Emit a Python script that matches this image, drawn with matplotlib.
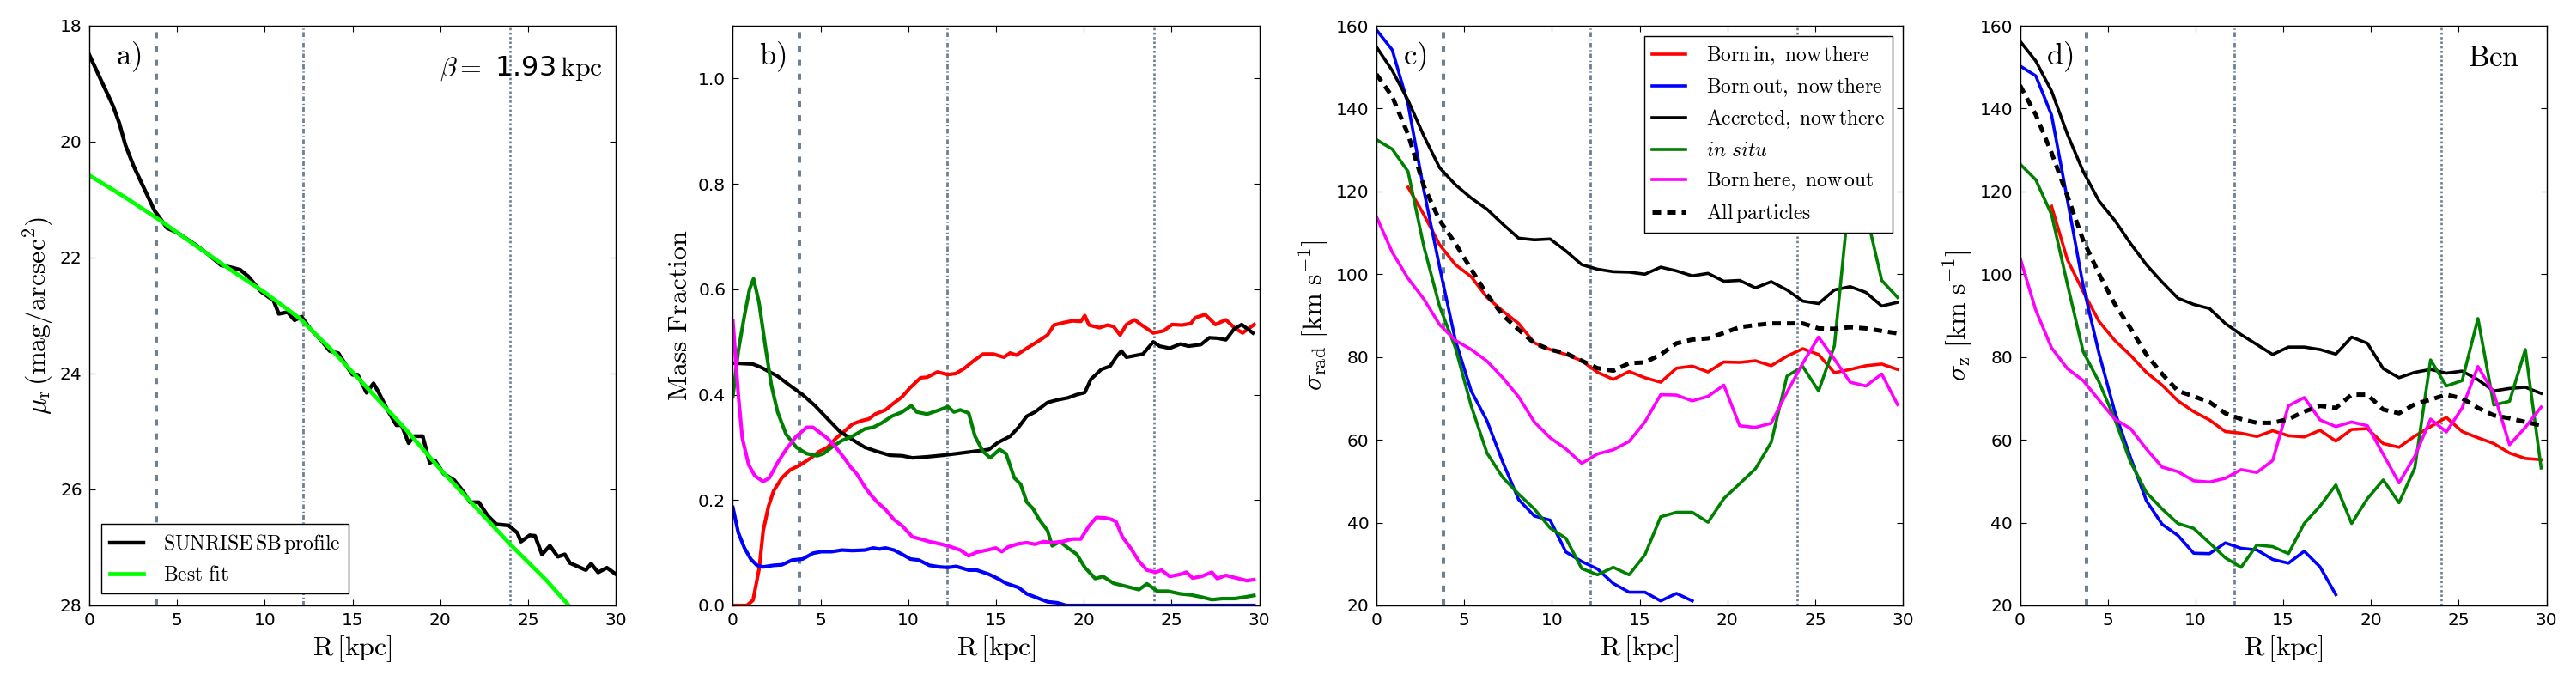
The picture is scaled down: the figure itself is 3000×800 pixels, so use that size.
import numpy as np
import matplotlib
matplotlib.use('Agg')
import matplotlib.pyplot as plt

nan = np.nan

plt.rcParams['mathtext.fontset'] = 'cm'
plt.rcParams['font.family'] = ['DejaVu Sans']
plt.rcParams['xtick.direction'] = 'in'
plt.rcParams['ytick.direction'] = 'in'
plt.rcParams['xtick.top'] = True
plt.rcParams['ytick.right'] = True
plt.rcParams['xtick.major.size'] = 5
plt.rcParams['ytick.major.size'] = 5
plt.rcParams['xtick.major.pad'] = 6
plt.rcParams['ytick.major.pad'] = 6
plt.rcParams['xtick.labelsize'] = 14.5
plt.rcParams['ytick.labelsize'] = 14.5
plt.rcParams['axes.linewidth'] = 1.0

# ---- panel a : surface brightness profile
a_r_sb = [0, 0.64, 1.35, 1.71, 2.06, 2.54, 3.13, 3.72, 4.08, 4.43, 5.03, 6.1, 6.8, 7.5, 8.1,
          8.6, 9.05, 9.8, 10.5, 10.8, 11.3, 11.7, 12.1, 12.6, 13.2, 13.7, 14.2, 14.6, 15.0, 15.3,
          15.8, 16.2, 16.5, 17.0, 17.5, 17.8, 18.2, 18.5, 19.0, 19.4, 19.7, 20.2, 20.8, 21.3, 21.7,
          22.2, 22.7, 23.2, 23.9, 24.4, 24.6, 25.1, 25.4, 25.8, 26.25, 26.7, 27.1, 27.4, 28.3, 28.6,
          29.0, 29.5, 30.0]
a_mu_sb = [18.5, 18.92, 19.38, 19.68, 20.06, 20.43, 20.81, 21.19, 21.34, 21.49, 21.57, 21.79, 21.95, 22.13, 22.17,
           22.21, 22.32, 22.59, 22.74, 22.97, 22.94, 23.08, 23.02, 23.23, 23.42, 23.61, 23.65, 23.84, 24.02, 24.02,
           24.33, 24.17, 24.33, 24.63, 24.89, 24.89, 25.2, 25.08, 25.08, 25.54, 25.5, 25.73, 25.84, 26.03, 26.22,
           26.22, 26.45, 26.6, 26.62, 26.75, 26.9, 26.79, 26.8, 27.12, 26.97, 27.16, 27.12, 27.27, 27.39, 27.28,
           27.43, 27.35, 27.46]
a_r_fit = [0, 2, 4, 6, 8, 10, 12, 14, 16, 18, 20, 22, 24, 26, 27.33]
a_mu_fit = [20.58, 20.95, 21.35, 21.78, 22.2, 22.6, 23.05, 23.65, 24.3, 24.95, 25.65, 26.3, 26.95, 27.55, 28.0]

# ---- panel b : mass fractions
b_r_born_in = [0, 0.8, 1.15, 1.5, 1.73, 2.03, 2.32, 2.79, 3.26, 3.86, 4.45, 4.92, 5.4, 5.87, 6.34,
               6.81, 7.29, 7.76, 8.11, 8.7, 9.18, 9.65, 10.1, 10.7, 11.07, 11.66, 12.25, 12.7, 13.2, 13.67,
               14.26, 14.85, 15.45, 15.8, 16.16, 16.75, 17.34, 17.93, 18.3, 18.9, 19.35, 19.83, 20.06, 20.3, 20.89,
               21.36, 21.7, 22.07, 22.43, 22.9, 23.26, 23.96, 24.55, 25.03, 25.6, 26.1, 26.35, 26.92, 27.5, 28.1,
               28.58, 29.05, 29.71]
b_born_in = [0, 0, 0.01, 0.07, 0.142, 0.188, 0.217, 0.242, 0.257, 0.267, 0.28, 0.292, 0.30, 0.317, 0.33,
             0.344, 0.35, 0.354, 0.363, 0.371, 0.384, 0.396, 0.413, 0.432, 0.433, 0.443, 0.438, 0.44, 0.45, 0.463,
             0.477, 0.477, 0.471, 0.479, 0.475, 0.488, 0.5, 0.513, 0.532, 0.537, 0.54, 0.539, 0.55, 0.532, 0.527,
             0.532, 0.529, 0.513, 0.533, 0.542, 0.533, 0.517, 0.521, 0.533, 0.532, 0.535, 0.546, 0.552, 0.533, 0.542,
             0.527, 0.517, 0.533]

b_r_born_out = [0, 0.31, 0.66, 1.02, 1.37, 1.73, 2.32, 2.79, 3.38, 3.97, 4.57, 5.04, 5.63, 6.22, 6.81,
                7.52, 8.0, 8.35, 8.7, 9.18, 9.65, 10.12, 10.6, 11.2, 11.78, 12.25, 12.73, 13.44, 13.9, 14.6,
                15.1, 15.57, 16.28, 16.75, 17.22, 17.93, 18.5, 19.0, 29.7]
b_born_out = [0.186, 0.138, 0.109, 0.088, 0.076, 0.073, 0.076, 0.077, 0.086, 0.088, 0.099, 0.102, 0.102, 0.105, 0.104,
              0.105, 0.109, 0.107, 0.109, 0.105, 0.097, 0.088, 0.086, 0.076, 0.073, 0.072, 0.074, 0.067, 0.067, 0.059,
              0.051, 0.042, 0.034, 0.022, 0.016, 0.007, 0.005, 0.0, 0.0]

b_r_accreted = [0, 1.14, 1.6, 2.55, 3.26, 3.97, 4.68, 5.4, 6.1, 6.7, 7.52, 8.23, 8.94, 9.65, 10.24,
                11.07, 12.0, 12.73, 13.67, 14.6, 15.1, 15.8, 16.28, 16.75, 17.22, 17.93, 18.5, 19.1, 19.6, 20.06,
                20.4, 21.0, 21.5, 21.84, 22.14, 22.43, 22.9, 23.37, 23.96, 24.32, 24.9, 25.5, 25.97, 26.68, 27.16,
                27.63, 28.1, 28.58, 29.0, 29.64]
b_accreted = [0.46, 0.458, 0.452, 0.435, 0.417, 0.4, 0.379, 0.354, 0.33, 0.317, 0.30, 0.292, 0.285, 0.284, 0.28,
              0.282, 0.285, 0.288, 0.292, 0.296, 0.309, 0.321, 0.338, 0.359, 0.367, 0.385, 0.39, 0.394, 0.40, 0.404,
              0.429, 0.448, 0.454, 0.471, 0.483, 0.471, 0.474, 0.477, 0.5, 0.492, 0.488, 0.496, 0.492, 0.495, 0.508,
              0.507, 0.504, 0.525, 0.533, 0.517]

b_r_insitu = [0, 0.31, 0.66, 0.95, 1.18, 1.49, 1.85, 2.2, 2.55, 3.03, 3.62, 4.21, 4.8, 5.16, 5.63,
              6.22, 6.81, 7.52, 8.0, 8.47, 9.06, 9.65, 10.17, 10.48, 11.07, 11.78, 12.25, 12.6, 12.96, 13.44,
              13.8, 14.26, 14.67, 15.2, 15.57, 16.04, 16.4, 16.75, 17.1, 17.46, 17.93, 18.2, 18.64, 19.1, 19.6,
              20.06, 20.65, 21.1, 21.7, 22.2, 22.67, 23.14, 23.6, 24.2, 24.8, 25.5, 26.1, 26.7, 27.3, 27.9,
              28.6, 29.2, 29.7]
b_insitu = [0.396, 0.483, 0.55, 0.6, 0.62, 0.575, 0.492, 0.417, 0.367, 0.325, 0.30, 0.288, 0.284, 0.288, 0.30,
            0.313, 0.321, 0.335, 0.338, 0.346, 0.359, 0.367, 0.379, 0.367, 0.363, 0.371, 0.377, 0.367, 0.371, 0.365,
            0.321, 0.292, 0.28, 0.296, 0.288, 0.242, 0.23, 0.196, 0.184, 0.163, 0.142, 0.113, 0.121, 0.109, 0.097,
            0.072, 0.051, 0.055, 0.042, 0.038, 0.034, 0.03, 0.041, 0.027, 0.027, 0.022, 0.02, 0.016, 0.011, 0.013,
            0.013, 0.016, 0.019]

b_r_born_here = [0, 0.31, 0.54, 0.9, 1.25, 1.73, 2.08, 2.55, 3.03, 3.62, 4.21, 4.57, 4.92, 5.4, 5.87,
                 6.34, 6.7, 7.05, 7.52, 7.88, 8.23, 8.7, 9.18, 9.65, 10.24, 10.7, 11.2, 11.78, 12.25, 12.96,
                 13.44, 13.9, 14.5, 14.98, 15.33, 15.69, 16.28, 16.75, 17.22, 17.7, 18.17, 18.76, 19.35, 19.83, 20.3,
                 20.72, 21.24, 21.6, 21.84, 22.2, 22.67, 23.14, 23.6, 24.1, 24.43, 24.9, 25.5, 25.85, 26.2, 26.7,
                 27.3, 27.6, 28.1, 28.7, 29.3, 29.7]
b_born_here = [0.54, 0.4, 0.317, 0.267, 0.246, 0.235, 0.242, 0.271, 0.296, 0.321, 0.338, 0.338, 0.329, 0.317, 0.30,
               0.28, 0.263, 0.25, 0.225, 0.209, 0.196, 0.182, 0.163, 0.151, 0.13, 0.126, 0.121, 0.117, 0.113, 0.105,
               0.094, 0.101, 0.105, 0.109, 0.102, 0.111, 0.117, 0.119, 0.116, 0.121, 0.119, 0.121, 0.126, 0.126, 0.151,
               0.167, 0.166, 0.163, 0.159, 0.13, 0.109, 0.084, 0.067, 0.063, 0.067, 0.055, 0.059, 0.063, 0.052, 0.055,
               0.063, 0.051, 0.057, 0.052, 0.047, 0.049]

# ---- panels c, d : velocity dispersions (shared radial bins)
r_sig = [0.0, 0.9, 1.8, 2.7, 3.6, 4.5, 5.4, 6.3, 7.2, 8.1, 9.0, 9.9, 10.8, 11.7, 12.6, 13.5, 14.4,
         15.3, 16.2, 17.1, 18.0, 18.9, 19.8, 20.7, 21.6, 22.5, 23.4, 24.3, 25.2, 26.1, 27.0, 27.9, 28.8, 29.7]

c_born_in = [nan, nan, 121.0, 114.4, 107.1, 102.3, 99.4, 94.4, 91.1, 88.1, 83.4, 81.8, 80.6, 79.1, 76.3, 74.6, 76.5,
             75.0, 73.9, 77.3, 77.8, 76.4, 78.8, 78.7, 79.1, 77.9, 80.2, 82.0, 80.6, 76.2, 77.0, 77.9, 78.3, 77.0]
c_born_out = [159.0, 154.2, 141.1, 120.3, 101.7, 84.0, 71.8, 64.6, 54.6, 45.6, 41.6, 40.6, 32.9, 30.6, 28.8, 25.3, 23.2,
              23.2, 21.1, 22.9, 21.1, nan, nan, nan, nan, nan, nan, nan, nan, nan, nan, nan, nan, nan]
c_accreted = [154.9, 149.2, 142.0, 133.4, 125.7, 121.6, 118.4, 115.7, 112.1, 108.7, 108.3, 108.5, 105.6, 102.3, 101.2,
              100.6, 100.5, 100.0, 101.7, 100.8, 99.6, 100.2, 98.3, 98.5, 96.7, 98.2, 96.2, 93.5, 92.9, 96.2, 97.0,
              95.6, 92.3, 93.2]
c_insitu = [132.5, 130.2, 124.8, 106.7, 92.2, 82.2, 68.2, 56.8, 50.9, 46.9, 43.3, 38.7, 36.2, 28.9, 27.4, 29.2, 27.4,
            32.2, 41.4, 42.5, 42.5, 40.1, 45.8, 49.4, 53.0, 59.4, 75.4, 77.7, 71.8, 82.7, 121.0, 115.0, 98.5, 94.4]
c_born_here = [113.9, 105.3, 99.0, 94.0, 87.8, 84.0, 81.8, 79.0, 75.0, 70.4, 64.3, 60.5, 57.8, 54.3, 56.6, 57.6, 59.6,
               64.3, 70.9, 70.8, 69.4, 70.5, 73.2, 63.4, 63.0, 64.0, 71.5, 78.5, 84.8, 79.5, 73.9, 73.0, 75.9, 68.5]
c_all = [148.3, 142.9, 133.8, 121.3, 113.0, 107.4, 101.2, 95.1, 90.1, 86.6, 83.3, 81.8, 80.9, 79.1, 77.3, 76.7, 78.5,
         78.7, 80.6, 83.3, 84.2, 84.5, 85.8, 87.2, 87.7, 88.1, 88.1, 88.1, 86.9, 86.8, 87.2, 86.9, 86.3, 85.7]

d_born_in = [nan, nan, 116.4, 103.5, 95.8, 88.6, 84.0, 80.4, 76.3, 73.2, 69.4, 66.8, 64.8, 62.0, 61.6, 60.8, 62.2,
             61.0, 60.7, 62.3, 59.7, 62.5, 62.7, 59.1, 58.2, 60.9, 63.2, 65.4, 62.0, 60.5, 59.1, 56.8, 55.5, 55.2]
d_born_out = [150.3, 147.9, 138.4, 118.0, 97.2, 80.9, 66.8, 55.7, 45.3, 39.6, 36.9, 32.6, 32.5, 35.1, 33.8, 33.4, 31.1,
              30.2, 33.1, 29.3, 22.6, nan, nan, nan, nan, nan, nan, nan, nan, nan, nan, nan, nan, nan]
d_accreted = [156.3, 151.5, 144.2, 133.8, 124.8, 117.7, 113.0, 107.4, 102.3, 98.1, 94.2, 92.7, 91.7, 88.1, 85.4, 83.0,
              80.6, 82.4, 82.4, 81.8, 80.7, 84.8, 83.3, 77.2, 75.0, 76.3, 77.0, 76.1, 76.6, 74.5, 71.8, 72.4, 72.7, 71.2]
d_insitu = [126.6, 122.8, 114.4, 97.6, 81.3, 74.0, 65.0, 54.6, 47.3, 43.3, 39.8, 38.6, 35.1, 31.5, 29.2, 34.6, 34.2,
            32.5, 39.8, 44.0, 49.1, 39.8, 45.8, 50.3, 44.8, 53.2, 79.3, 73.0, 74.3, 89.3, 68.4, 69.3, 81.8, 53.2]
d_born_here = [104.0, 91.3, 82.2, 77.2, 74.3, 69.6, 65.0, 62.7, 57.8, 53.4, 52.3, 50.1, 49.8, 50.7, 52.8, 52.1, 55.0,
               68.2, 70.2, 64.8, 63.2, 64.3, 63.4, 56.5, 49.6, 56.0, 65.0, 61.9, 67.7, 77.7, 71.3, 58.8, 63.0, 67.9]
d_all = [145.6, 138.5, 129.3, 118.9, 108.2, 100.1, 92.8, 86.9, 80.6, 75.9, 71.8, 70.5, 69.1, 66.4, 65.0, 64.1, 64.1,
         65.0, 66.8, 68.2, 67.7, 70.9, 70.9, 67.3, 66.4, 68.6, 69.7, 70.9, 70.0, 67.7, 65.9, 65.2, 64.3, 63.5]

r_lines = [3.8, 12.2, 24.0]
line_col = '#708090'

labels = [r'$\rm Born\,in,\ now\,there$', r'$\rm Born\,out,\ now\,there$', r'$\rm Accreted,\ now\,there$',
          r'$in\ situ$', r'$\rm Born\,here,\ now\,out$', r'$\rm All\,particles$']
colors = ['red', 'blue', 'black', 'green', 'magenta', 'black']

fig = plt.figure(figsize=(30, 8), dpi=100)
lefts = [104, 853.5, 1603, 2352.5]
axes = [fig.add_axes([l / 3000, 95 / 800, 613 / 3000, 675 / 800]) for l in lefts]


def vlines(ax):
    ax.axvline(r_lines[0], color=line_col, lw=2.9, ls=(0, (1.75, 2.25)), zorder=1)
    ax.axvline(r_lines[1], color=line_col, lw=2.0, ls=(0, (2.0, 1.0, 0.5, 1.0)), zorder=1)
    ax.axvline(r_lines[2], color=line_col, lw=1.9, ls=(0, (1, 1)), zorder=1)


def panel_tag(ax, s):
    ax.text(0.05, 0.975, s, transform=ax.transAxes, ha='left', va='top', fontsize=25)


xlab = r'$\mathrm{R\,[kpc]}$'

# a)
ax = axes[0]
vlines(ax)
ax.plot(a_r_sb, a_mu_sb, color='black', lw=3.2, label=r'$\rm SUNRISE\,SB\,profile$')
ax.plot(a_r_fit, a_mu_fit, color='#00ff00', lw=3.4, label=r'$\rm Best\ fit$')
ax.set_xlim(0, 30)
ax.set_ylim(28, 18)
ax.set_yticks([18, 20, 22, 24, 26, 28])
ax.set_xlabel(xlab, fontsize=23)
ax.set_ylabel(r'$\mu_{\rm r}\,(\rm mag/arcsec^2)$', fontsize=23)
panel_tag(ax, r'$\rm a)$')
ax.text(0.975, 0.915, r'$\beta =$ 1.93$\,\rm kpc$', transform=ax.transAxes, ha='right',
        va='baseline', fontsize=23)
ax.legend(loc='lower left', fontsize=17, fancybox=False, edgecolor='black', framealpha=1,
          handlelength=1.65, handletextpad=1.0, borderaxespad=0.6, labelspacing=0.45)

# b)
ax = axes[1]
vlines(ax)
ax.plot(b_r_born_in, b_born_in, color='red', lw=3.0)
ax.plot(b_r_born_out, b_born_out, color='blue', lw=3.0)
ax.plot(b_r_accreted, b_accreted, color='black', lw=3.0)
ax.plot(b_r_insitu, b_insitu, color='green', lw=3.0)
ax.plot(b_r_born_here, b_born_here, color='magenta', lw=3.0)
ax.set_xlim(0, 30)
ax.set_ylim(0, 1.1)
ax.set_yticks([0.0, 0.2, 0.4, 0.6, 0.8, 1.0])
ax.set_xlabel(xlab, fontsize=23)
ax.set_ylabel(r'$\rm Mass\ Fraction$', fontsize=23)
panel_tag(ax, r'$\rm b)$')

# c) and d)
for ax, series, ylab, tag in [
        (axes[2], [c_born_in, c_born_out, c_accreted, c_insitu, c_born_here, c_all],
         r'$\sigma_{\rm rad}\ [\rm km\ s^{-1}]$', r'$\rm c)$'),
        (axes[3], [d_born_in, d_born_out, d_accreted, d_insitu, d_born_here, d_all],
         r'$\sigma_{\rm z}\ [\rm km\ s^{-1}]$', r'$\rm d)$')]:
    vlines(ax)
    for k, (vals, col, lab) in enumerate(zip(series, colors, labels)):
        if k == 5:
            ax.plot(r_sig, vals, color=col, lw=3.6, ls=(0, (2.0, 1.4)), label=lab)
        else:
            ax.plot(r_sig, vals, color=col, lw=2.6, label=lab)
    ax.set_xlim(0, 30)
    ax.set_ylim(20, 160)
    ax.set_yticks(range(20, 161, 20))
    ax.set_xlabel(xlab, fontsize=23)
    ax.set_ylabel(ylab, fontsize=23)
    panel_tag(ax, tag)

axes[2].legend(loc='upper right', fontsize=17, fancybox=False, edgecolor='black', framealpha=1,
               handlelength=1.65, handletextpad=1.0, borderaxespad=0.5, labelspacing=0.45)
axes[3].text(0.95, 0.93, r'$\rm Ben$', transform=axes[3].transAxes, ha='right', va='baseline',
             fontsize=25)

for ax in axes:
    ax.set_xticks([0, 5, 10, 15, 20, 25, 30])
    ax.tick_params(width=0.8)

fig.savefig('out.png', dpi=100)
